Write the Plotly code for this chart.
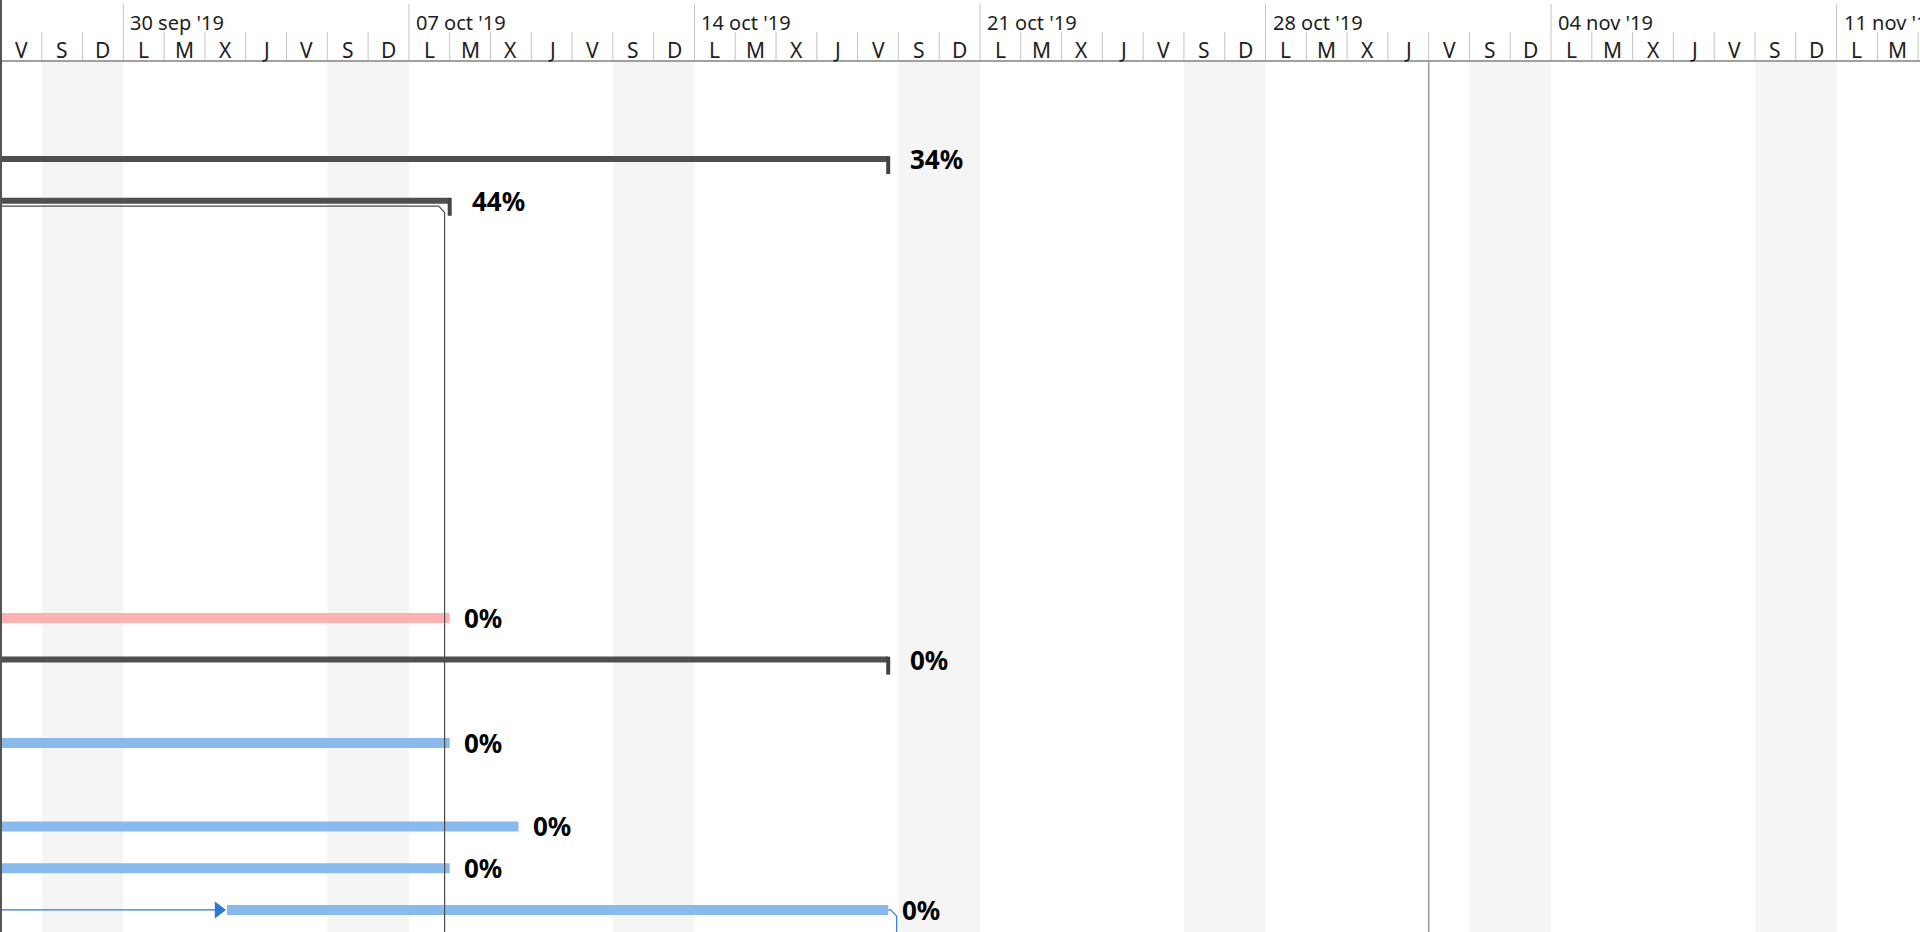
import plotly.graph_objects as go
import pandas as pd

# visible window of the timeline
range_start = "2019-09-27 00:00"
range_end = "2019-11-13 01:05"

# gantt rows (row index from the top), bar dates, bar kind and % complete
task_rows = [0, 1, 11, 12, 14, 16, 17, 18]
task_starts = ["2019-09-16", "2019-09-20", "2019-09-23", "2019-09-16",
               "2019-09-23", "2019-09-24", "2019-09-23", "2019-10-02 13:00"]
task_ends = ["2019-10-18 18:00", "2019-10-08 00:00", "2019-10-08 00:00", "2019-10-18 18:00",
             "2019-10-08 00:00", "2019-10-09 16:30", "2019-10-08 00:00", "2019-10-18 18:00"]
task_kinds = ["summary", "summary", "critical", "summary", "task", "task", "task", "task"]
task_pct = [34, 44, 0, 0, 0, 0, 0, 0]

# dependency links visible in the window
link_gray_row = 1.13
link_gray_x = "2019-10-07 21:00"
link_in_row = 18
link_in_to = "2019-10-02 13:00"
link_out_row = 18
link_out_from = "2019-10-18 18:00"
link_out_x = "2019-10-18 23:00"

status_date = "2019-11-01"

day_letters = ["L", "M", "X", "J", "V", "S", "D"]
month_abbr = ["ene", "feb", "mar", "abr", "may", "jun", "jul", "ago", "sep", "oct", "nov", "dic"]

COLORS = {
    "summary": "#4f4f4f",
    "critical": "#ffb1b1",
    "task": "#8ab9eb",
    "link_blue": "#2b79d4",
    "link_gray": "#4a4a4a",
}
WIDTHS = {"summary": 6, "critical": 10, "task": 10}

Y_TOP, Y_BOTTOM = -2.35, 18.53
PLOT_H = 871  # px of the plot area, header sits in the top margin
FONT = "Noto Sans"

fig = go.Figure()

# bars, one trace per kind
for kind in ["summary", "critical", "task"]:
    xs, ys = [], []
    for r, s, e, k in zip(task_rows, task_starts, task_ends, task_kinds):
        if k == kind:
            xs += [s, e, None]
            ys += [r, r, None]
    fig.add_trace(go.Scatter(x=xs, y=ys, mode="lines", line=dict(color=COLORS[kind], width=WIDTHS[kind]),
                             hoverinfo="skip", showlegend=False))

# summary end marks
for r, e, k in zip(task_rows, task_ends, task_kinds):
    if k == "summary":
        fig.add_trace(go.Scatter(x=[e, e], y=[r - 0.07, r + 0.36], mode="lines",
                                 line=dict(color="#444444", width=4), hoverinfo="skip", showlegend=False))

# links
gx = pd.Timestamp(link_gray_x)
corner = pd.Timedelta(hours=3.5)
fig.add_trace(go.Scatter(
    x=[pd.Timestamp(range_start) - pd.Timedelta(days=1), gx - corner, gx, gx],
    y=[link_gray_row, link_gray_row, link_gray_row + 0.15, Y_BOTTOM + 1],
    mode="lines", line=dict(color=COLORS["link_gray"], width=1.2), hoverinfo="skip", showlegend=False))

# arrow head sits just left of the successor bar (tip touching the bar start)
head_x = pd.Timestamp(link_in_to) - pd.Timedelta(hours=5)
fig.add_trace(go.Scatter(
    x=[pd.Timestamp(range_start) - pd.Timedelta(days=1), head_x],
    y=[link_in_row, link_in_row],
    mode="lines", line=dict(color=COLORS["link_blue"], width=1.2),
    hoverinfo="skip", showlegend=False))
fig.add_trace(go.Scatter(
    x=[head_x], y=[link_in_row], mode="markers",
    marker=dict(symbol="triangle-right", size=15, color=COLORS["link_blue"]),
    hoverinfo="skip", showlegend=False))

ox = pd.Timestamp(link_out_x)
fig.add_trace(go.Scatter(
    x=[link_out_from, ox - corner, ox, ox],
    y=[link_out_row, link_out_row, link_out_row + 0.15, Y_BOTTOM + 1],
    mode="lines", line=dict(color=COLORS["link_blue"], width=1.2), hoverinfo="skip", showlegend=False))

# % complete labels
for r, e, k, p in zip(task_rows, task_ends, task_kinds, task_pct):
    fig.add_annotation(x=e, y=r, xref="x", yref="y", text=f"<b>{p}%</b>", showarrow=False,
                       xanchor="left", yanchor="middle", xshift=20 if k == "summary" else 12,
                       font=dict(family=FONT, size=26, color="#000000"))

shapes = []
# weekend shading
for sat in pd.date_range("2019-09-21", range_end, freq="W-SAT"):
    shapes.append(dict(type="rect", xref="x", yref="paper", x0=sat, x1=sat + pd.Timedelta(days=2),
                       y0=0, y1=1, fillcolor="#f5f5f5", line_width=0, layer="below"))


# timescale header
def py(px_above):
    return 1 + px_above / PLOT_H


for d in pd.date_range("2019-09-27", "2019-11-13", freq="D"):
    major = d.weekday() == 0
    shapes.append(dict(type="line", xref="x", yref="paper", x0=d, x1=d, y0=1, y1=py(57 if major else 29),
                       line=dict(color="#c4c4c4", width=1)))
    if d < pd.Timestamp(range_end):
        fig.add_annotation(x=d + pd.Timedelta(hours=12), y=py(11), xref="x", yref="paper",
                           text=day_letters[d.weekday()], showarrow=False, xanchor="center", yanchor="middle",
                           font=dict(family=FONT, size=21, color="#1e1e1e"))
    if major:
        fig.add_annotation(x=d, y=py(39), xref="x", yref="paper",
                           text=f"{d.day:02d} {month_abbr[d.month - 1]} '{d.year % 100}",
                           showarrow=False, xanchor="left", yanchor="middle", xshift=5,
                           font=dict(family=FONT, size=20, color="#1e1e1e"))

shapes.append(dict(type="line", xref="paper", yref="paper", x0=0, x1=1, y0=1, y1=1,
                   line=dict(color="#a0a0a0", width=2)))
shapes.append(dict(type="line", xref="paper", yref="paper", x0=0, x1=0, y0=0, y1=py(61),
                   line=dict(color="#555555", width=2)))
# status date line
shapes.append(dict(type="line", xref="x", yref="paper", x0=status_date, x1=status_date, y0=0, y1=1,
                   line=dict(color="#9a9a9a", width=1.5)))

fig.update_layout(
    width=1920, height=932,
    margin=dict(l=1, r=0, t=61, b=0),
    paper_bgcolor="white", plot_bgcolor="white",
    shapes=shapes,
    showlegend=False,
    xaxis=dict(type="date", range=[range_start, range_end], showgrid=False, zeroline=False,
               showticklabels=False, ticks="", fixedrange=True),
    yaxis=dict(range=[Y_BOTTOM, Y_TOP], showgrid=False, zeroline=False, showticklabels=False,
               ticks="", fixedrange=True),
)

fig.write_html("out.html", config={"displayModeBar": False},
               post_script="document.body.style.margin='0';document.body.style.overflow='hidden';")
